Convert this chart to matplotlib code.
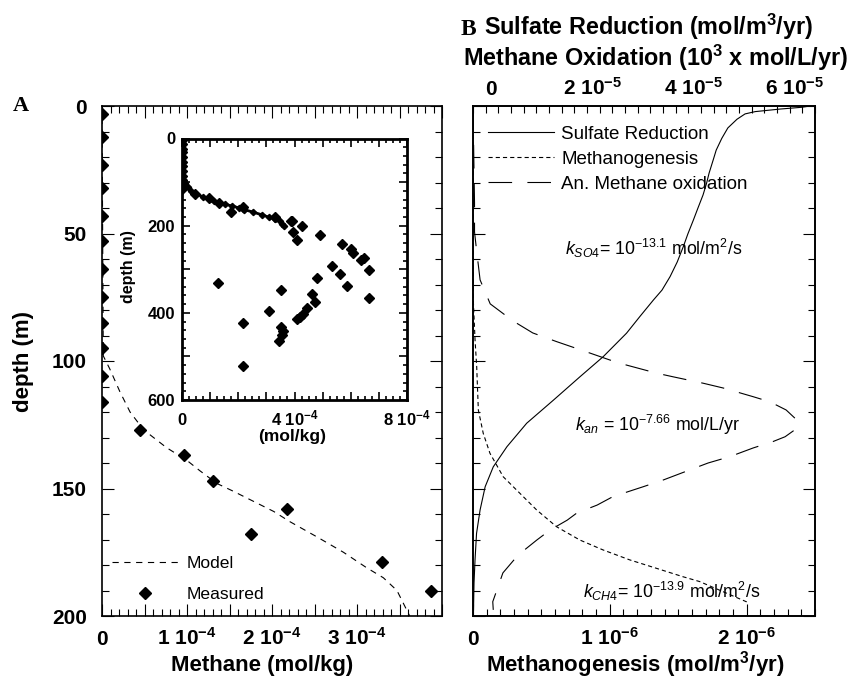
import matplotlib
matplotlib.use('Agg')
import matplotlib.pyplot as plt
from matplotlib.ticker import MultipleLocator
from matplotlib.transforms import ScaledTranslation

plt.rcParams['font.family'] = ['Liberation Sans', 'DejaVu Sans']
plt.rcParams['mathtext.fontset'] = 'custom'
plt.rcParams['mathtext.rm'] = 'Liberation Sans'
plt.rcParams['mathtext.it'] = 'Liberation Sans:italic'
plt.rcParams['mathtext.bf'] = 'Liberation Sans:bold'
plt.rcParams['mathtext.default'] = 'regular'
plt.rcParams['lines.scale_dashes'] = False
plt.rcParams['xtick.direction'] = 'in'
plt.rcParams['ytick.direction'] = 'in'

# ---- Panel A: methane profile (mol/kg) vs depth (m)
meas_depth = [3, 12, 23, 32, 43, 53, 64, 75, 85, 95, 106, 116,
              127, 137, 147, 158, 168, 179, 190]
meas_ch4 = [0, 0, 0, 0, 0, 0, 0, 0, 0, 0, 0, 0,
            0.45e-4, 0.97e-4, 1.30e-4, 2.18e-4, 1.75e-4, 3.29e-4, 3.87e-4]

model_depth = [0, 98, 103, 112, 120, 127, 134, 139, 143, 148, 151,
               155, 159, 163, 169, 175, 181, 185, 190, 196, 200]
model_ch4 = [0, 0.015e-4, 0.09e-4, 0.21e-4, 0.33e-4, 0.49e-4, 0.76e-4,
             1.00e-4, 1.15e-4, 1.35e-4, 1.54e-4, 1.78e-4, 2.02e-4, 2.21e-4,
             2.53e-4, 2.84e-4, 3.11e-4, 3.31e-4, 3.47e-4, 3.56e-4, 3.62e-4]

# deeper measurements shown only in the inset
deep_depth = [189, 200, 214, 234, 222, 243, 253, 263, 278, 274, 302, 292,
              312, 338, 321, 367, 347, 331, 356, 376, 388, 402, 409, 415,
              395, 424, 432, 441, 451, 464, 521]
deep_ch4 = [3.90e-4, 4.25e-4, 3.96e-4, 4.08e-4, 4.91e-4, 5.70e-4, 6.01e-4,
            6.07e-4, 6.36e-4, 6.48e-4, 6.66e-4, 5.34e-4, 5.62e-4, 5.85e-4,
            4.81e-4, 6.66e-4, 3.52e-4, 1.29e-4, 4.63e-4, 4.73e-4, 4.46e-4,
            4.29e-4, 4.20e-4, 4.08e-4, 3.08e-4, 2.16e-4, 3.52e-4, 3.60e-4,
            3.56e-4, 3.46e-4, 2.16e-4]

# ---- Panel B: reaction rates vs depth (m)
sr_depth = [0, 0.5, 1.2, 2.2, 3.1, 5.2, 8.6, 12.7, 17.3, 21.2, 26.3, 30.3,
            34.9, 40, 44.7, 50.2, 55.2, 61.2, 66.9, 72.2, 76.1, 82.4, 89.1,
            93.7, 98.3, 106.2, 115.3, 124.4, 133.6, 141.5, 149.3, 158.4,
            167.6, 178, 187, 197.6]
sr_rate = [6.65e-5, 6.49e-5, 6.06e-5, 5.57e-5, 5.37e-5, 5.21e-5, 5.03e-5,
           4.91e-5, 4.80e-5, 4.74e-5, 4.66e-5, 4.61e-5, 4.54e-5, 4.44e-5,
           4.35e-5, 4.24e-5, 4.15e-5, 4.03e-5, 3.89e-5, 3.73e-5, 3.56e-5,
           3.30e-5, 3.03e-5, 2.80e-5, 2.57e-5, 2.11e-5, 1.59e-5, 1.06e-5,
           0.67e-5, 0.40e-5, 0.24e-5, 0.14e-5, 0.07e-5, 0.04e-5, 0.02e-5,
           0.01e-5]

mo_depth = [0, 38, 49.4, 56.5, 68.2, 77.6, 84.3, 89, 92.4, 96.9, 99.6, 101.6,
            104.8, 106.2, 108.7, 110.6, 114, 116, 119.2, 123.1, 126.3, 129.7,
            131.6, 134.1, 137.5, 140, 142.7, 146.7, 149.3, 153.2, 156.5,
            159.6, 162.4, 166.3, 170.2, 176.1, 183.1, 194.4, 197.6]
mo_rate = [0, 0.03e-5, 0.03e-5, 0.07e-5, 0.14e-5, 0.34e-5, 0.79e-5, 1.18e-5,
           1.65e-5, 2.31e-5, 2.70e-5, 3.03e-5, 3.63e-5, 3.95e-5, 4.54e-5,
           4.94e-5, 5.53e-5, 5.86e-5, 6.18e-5, 6.39e-5, 6.40e-5, 6.16e-5,
           5.92e-5, 5.53e-5, 5.07e-5, 4.64e-5, 4.28e-5, 3.75e-5, 3.36e-5,
           2.76e-5, 2.45e-5, 2.05e-5, 1.86e-5, 1.52e-5, 1.26e-5, 0.89e-5,
           0.59e-5, 0.39e-5, 0.40e-5]

mg_depth = [0, 76, 91.8, 102.2, 119.2, 128.4, 136.2, 145.4, 151.9, 158.4,
            165, 170.2, 174.1, 178, 181.3, 184.6, 186.5, 194.4, 195.7]
mg_rate = [0, 0.002e-6, 0.015e-6, 0.027e-6, 0.039e-6, 0.075e-6, 0.124e-6,
           0.221e-6, 0.343e-6, 0.465e-6, 0.611e-6, 0.781e-6, 0.951e-6,
           1.146e-6, 1.341e-6, 1.535e-6, 1.657e-6, 1.998e-6, 2.007e-6]

W, H = 848, 680
fig = plt.figure(figsize=(W / 100, H / 100), dpi=100)


def fx(px):
    return px / W


def fy(py):
    return 1 - py / H


BOLD = dict(fontweight='bold')

# ================= Panel A =================
axA = fig.add_axes([fx(102), fy(616), fx(442) - fx(102), fy(106) - fy(616)])
axA.plot(model_ch4, model_depth, color='black', lw=0.8, ls=(0, (4.5, 4)),
         label='Model')
axA.plot(meas_ch4, meas_depth, ls='none', marker='D', ms=6.2, color='black',
         label='Measured')
axA.set_xlim(0, 4e-4)
axA.set_ylim(200, 0)

xt = [0, 0.5e-4, 1e-4, 1.5e-4, 2e-4, 2.5e-4, 3e-4, 3.5e-4, 4e-4]
axA.set_xticks(xt, ['0', '', '1 10$^{-4}$', '', '2 10$^{-4}$', '',
                    '3 10$^{-4}$', '', ''])
axA.xaxis.set_minor_locator(MultipleLocator(1e-5))
axA.set_yticks([0, 50, 100, 150, 200], ['0', '50', '100', '150', '200'])
axA.yaxis.set_minor_locator(MultipleLocator(10))
axA.tick_params(which='both', top=True, right=True, width=0.8)
axA.tick_params(which='major', length=8.5)
axA.tick_params(which='minor', length=4.8)
axA.tick_params(axis='y', labelsize=15, pad=11)
axA.tick_params(axis='x', labelsize=15, pad=21)
for t in axA.get_xticklabels() + axA.get_yticklabels():
    t.set_fontweight('bold')
for t in axA.get_xticklabels():
    t.set_verticalalignment('baseline')
for s in axA.spines.values():
    s.set_linewidth(1.2)
axA.set_xlabel('Methane (mol/kg)', fontsize=16, va='baseline', **BOLD)
axA.xaxis.set_label_coords(0.47, -0.108)
axA.set_ylabel('depth (m)', fontsize=16, **BOLD)
axA.yaxis.set_label_coords(-0.20, 0.5)
axA.legend(loc='lower left', bbox_to_anchor=(0.0285, 0.028), frameon=False,
           fontsize=12.6, handlelength=3.8, handletextpad=0.48,
           labelspacing=0.9, borderpad=0, borderaxespad=0, numpoints=1)

fig.text(fx(20.5), fy(106), 'A', family='Liberation Serif', fontsize=16,
         ha='center', va='center', **BOLD)

# ---- inset
axI = fig.add_axes([fx(182), fy(400), fx(407) - fx(182), fy(138.5) - fy(400)])
axI.plot(model_ch4, model_depth, color='black', lw=2.0, marker='D', ms=3.2)
axI.plot(meas_ch4, meas_depth, ls='none', marker='D', ms=4.6, color='black')
axI.plot(deep_ch4, deep_depth, ls='none', marker='D', ms=4.6, color='black')
axI.set_xlim(0, 8e-4)
axI.set_ylim(600, 0)
axI.set_xticks([i * 1e-4 for i in range(9)],
               ['0', '', '', '', '4 10$^{-4}$', '', '', '', '8 10$^{-4}$'])
axI.xaxis.set_minor_locator(MultipleLocator(0.25e-4))
axI.set_yticks([0, 100, 200, 300, 400, 500, 600],
               ['0', '', '200', '', '400', '', '600'])
axI.yaxis.set_minor_locator(MultipleLocator(20))
axI.tick_params(which='both', top=True, right=True, width=1.2)
axI.tick_params(which='major', length=5.5)
axI.tick_params(which='minor', length=3)
axI.tick_params(axis='y', labelsize=12, pad=5)
axI.tick_params(axis='x', labelsize=12, pad=18)
for t in axI.get_xticklabels() + axI.get_yticklabels():
    t.set_fontweight('bold')
for t in axI.get_xticklabels():
    t.set_verticalalignment('baseline')
for s in axI.spines.values():
    s.set_linewidth(2.0)
axI.set_xlabel('(mol/kg)', fontsize=12.5, **BOLD)
axI.xaxis.set_label_coords(0.489, -0.111)
axI.set_ylabel('depth (m)', fontsize=11.5, **BOLD)
axI.yaxis.set_label_coords(-0.204, 0.509)

# ================= Panel B =================
axB = fig.add_axes([fx(473), fy(616), fx(815) - fx(473), fy(106) - fy(616)])
axT = axB.twiny()

l_mg, = axB.plot(mg_rate, mg_depth, color='black', lw=0.8, ls=(0, (3, 2.2)))
l_sr, = axT.plot(sr_rate, sr_depth, color='black', lw=0.8)
l_mo, = axT.plot(mo_rate, mo_depth, color='black', lw=0.8, ls=(0, (17, 11)))

axB.set_ylim(200, 0)
axB.set_xlim(0, 2.5e-6)
axT.set_xlim(0, 6.75e-5)

axB.set_xticks([0, 1e-6, 2e-6], ['0', '1 10$^{-6}$', '2 10$^{-6}$'])
axB.xaxis.set_minor_locator(MultipleLocator(1e-7))
axB.yaxis.set_major_locator(MultipleLocator(50))
axB.yaxis.set_minor_locator(MultipleLocator(10))
axB.tick_params(which='both', left=True, right=True, labelleft=False,
                width=0.8)
axB.tick_params(which='major', length=8.5)
axB.tick_params(which='minor', length=4.8)
axB.tick_params(axis='x', labelsize=15, pad=21)
for t in axB.get_xticklabels():
    t.set_fontweight('bold')
    t.set_verticalalignment('baseline')

axT.set_xticks([0, 2e-5, 4e-5, 6e-5],
               ['0', '2 10$^{-5}$', '4 10$^{-5}$', '6 10$^{-5}$'])
axT.xaxis.set_minor_locator(MultipleLocator(0.25e-5))
axT.tick_params(which='both', width=0.8)
axT.tick_params(which='major', length=4.8)
axT.tick_params(which='minor', length=4.8)
axT.tick_params(axis='x', labelsize=15, pad=5)
shift = ScaledTranslation(0.18, 0, fig.dpi_scale_trans)
for t in axT.get_xticklabels():
    t.set_fontweight('bold')
    t.set_transform(t.get_transform() + shift)
for a in (axB, axT):
    for s in a.spines.values():
        s.set_linewidth(1.2)

axB.set_xlabel('Methanogenesis (mol/m$^3$/yr)', fontsize=16, va='baseline',
               **BOLD)
axB.xaxis.set_label_coords(0.474, -0.108)

fig.text(fx(655), fy(58), 'Methane Oxidation (10$^3$ x mol/L/yr)',
         fontsize=16.8, ha='center', va='center', **BOLD)
fig.text(fx(484), fy(35), 'Sulfate Reduction (mol/m$^3$/yr)',
         fontsize=16.8, ha='left', va='baseline', **BOLD)
fig.text(fx(468), fy(35), 'B', family='Liberation Serif', fontsize=16.8,
         ha='center', va='baseline', **BOLD)

axT.legend([l_sr, l_mg, l_mo],
           ['Sulfate Reduction', 'Methanogenesis', 'An. Methane oxidation'],
           loc='upper left', bbox_to_anchor=(0.044, 0.962), frameon=False,
           fontsize=13.5, handlelength=3.5, handletextpad=0.4,
           labelspacing=0.42, borderpad=0, borderaxespad=0)

axT.text(0.269, 0.7216,
         '$\\mathit{k}_{\\mathit{SO4}}$= 10$^{-13.1}$ mol/m$^2$/s',
         transform=axB.transAxes, fontsize=12.8, va='center')
axT.text(0.298, 0.3745,
         '$\\mathit{k}_{\\mathit{an}}$ = 10$^{-7.66}$ mol/L/yr',
         transform=axB.transAxes, fontsize=12.8, va='center')
axT.text(0.3225, 0.0476,
         '$\\mathit{k}_{\\mathit{CH4}}$= 10$^{-13.9}$ mol/m$^2$/s',
         transform=axB.transAxes, fontsize=12.8, va='center')

fig.savefig('out.png', dpi=100)
